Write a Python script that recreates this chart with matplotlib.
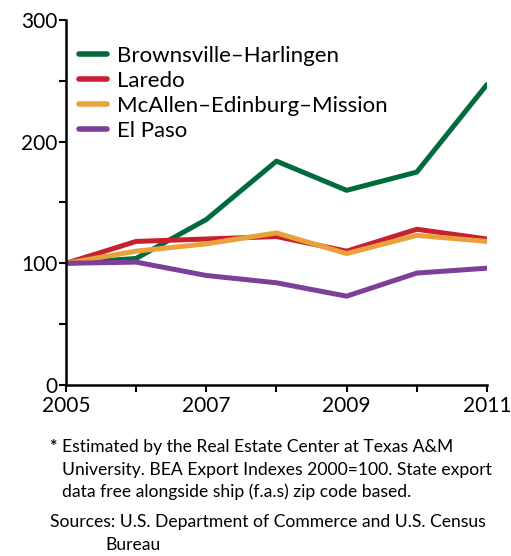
import matplotlib.pyplot as plt

plt.rcParams['font.family'] = ['Lato', 'DejaVu Sans']

years = [2005, 2006, 2007, 2008, 2009, 2010, 2011]
brownsville = [100, 104, 136, 184, 160, 175, 247]
laredo = [100, 118, 120, 122, 110, 128, 120]
mcallen = [100, 110, 116, 125, 108, 123, 118]
el_paso = [100, 101, 90, 84, 73, 92, 96]

series = [
    ("Brownsville\u2013Harlingen", brownsville, "#006b3c"),
    ("Laredo", laredo, "#c8202f"),
    ("McAllen\u2013Edinburg\u2013Mission", mcallen, "#e9a23b"),
    ("El Paso", el_paso, "#7d3f98"),
]

fig = plt.figure(figsize=(5.11, 5.56), dpi=100)
ax = fig.add_axes([0.129, 0.3076, 0.824, 0.6564])

for name, vals, color in series:
    ax.plot(years, vals, color=color, lw=3.6, label=name, solid_capstyle='round')

ax.set_xlim(2005, 2011)
ax.set_ylim(0, 300)
ax.set_xticks(range(2005, 2012, 2))
ax.set_xticks(years, minor=True)
ax.set_yticks([0, 100, 200, 300])
ax.set_yticks(range(0, 301, 50), minor=True)
ax.tick_params(which='both', direction='out', length=5, width=1.5, labelsize=15, colors='black')
ax.tick_params(axis='x', pad=3)
ax.tick_params(axis='y', pad=1)
for side in ['top', 'right']:
    ax.spines[side].set_visible(False)
for side in ['left', 'bottom']:
    ax.spines[side].set_linewidth(1.8)

leg = ax.legend(loc='upper left', bbox_to_anchor=(0.0, 0.965), frameon=False,
                fontsize=16, handlelength=1.25, handletextpad=0.45, labelspacing=0.22,
                borderaxespad=0.2)
for line in leg.get_lines():
    line.set_linewidth(4)

fs = 12.6
fig.text(0.096, 1 - 447 / 556, "*", fontsize=fs, va='center', fontweight='bold')
fig.text(0.122, 1 - 447 / 556, "Estimated by the Real Estate Center at Texas A&M", fontsize=fs, va='center')
fig.text(0.122, 1 - 470 / 556, "University. BEA Export Indexes 2000=100. State export", fontsize=fs, va='center')
fig.text(0.122, 1 - 492 / 556, "data free alongside ship (f.a.s) zip code based.", fontsize=fs, va='center')
fig.text(0.098, 1 - 522 / 556, "Sources: U.S. Department of Commerce and U.S. Census", fontsize=fs, va='center')
fig.text(0.207, 1 - 545 / 556, "Bureau", fontsize=fs, va='center')

fig.savefig("out.png", dpi=100)
